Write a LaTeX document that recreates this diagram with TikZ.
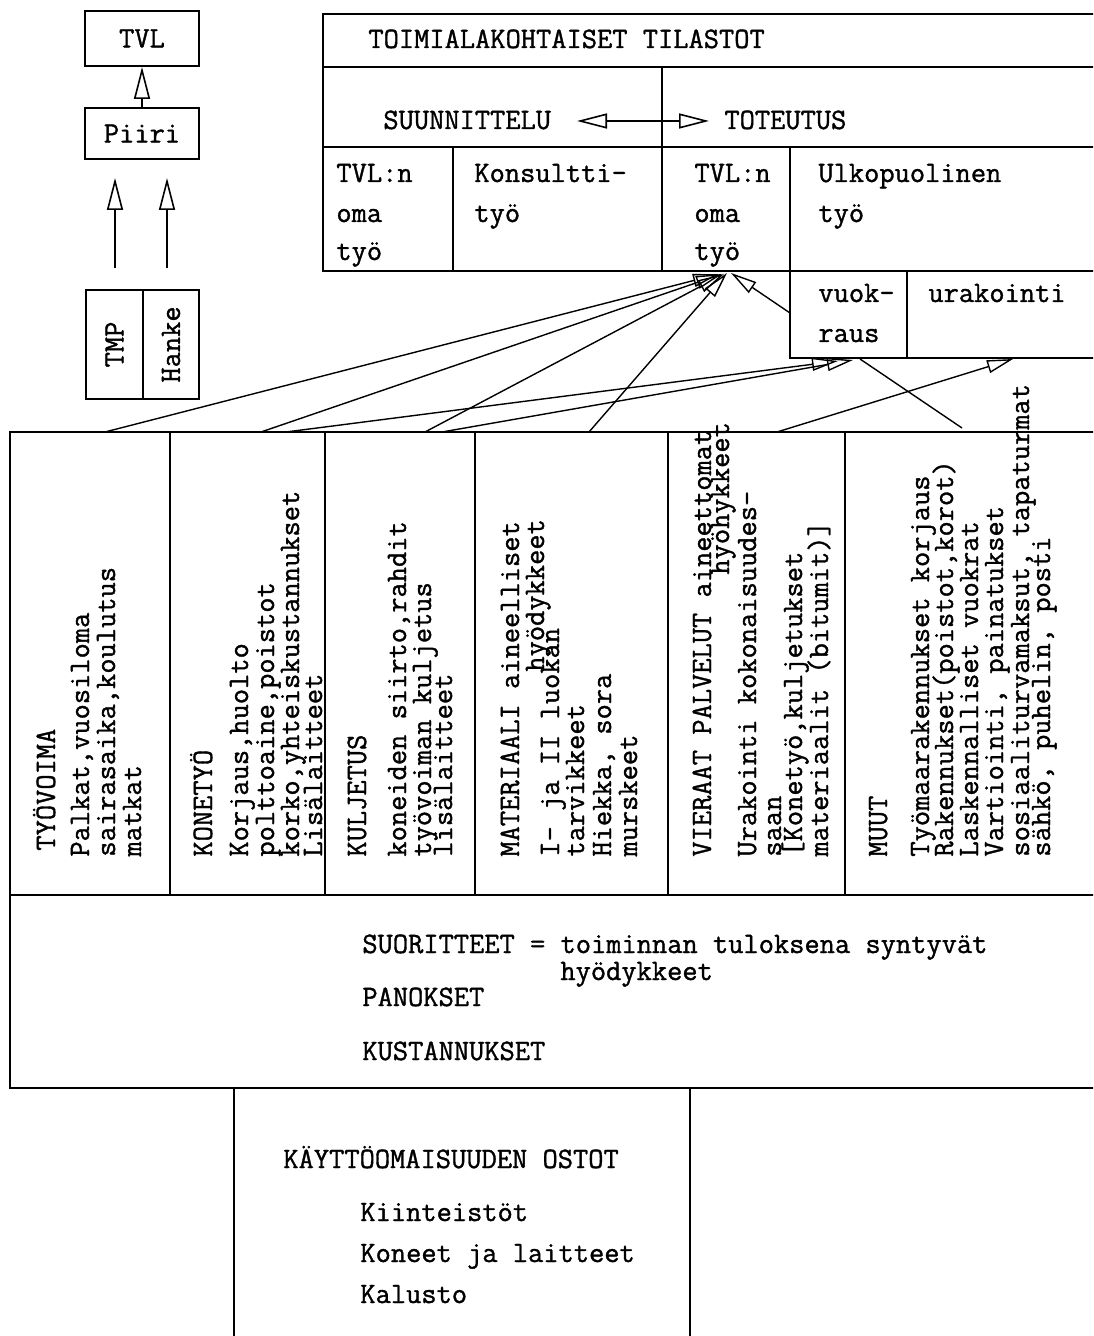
\documentclass[tikz,border=0pt]{standalone}
\usepackage{fontspec}
\newfontfamily\twfont{Latin Modern Mono}[FakeBold=1.2]
\usetikzlibrary{arrows.meta}
\tikzset{
 fnt/.style={font=\twfont\fontsize{14.8}{16}\selectfont},
 tx/.style={fnt, inner sep=0pt, text height=10pt, text depth=2pt, anchor=west},
 vt/.style={tx, rotate=90},
 rule/.style={line width=1pt},
 conn/.style={line width=0.7pt, -{Triangle[open,length=13pt,width=6.5pt,line width=0.7pt]}},
 bigconn/.style={line width=0.8pt, -{Triangle[open,length=16pt,width=8pt,line width=0.8pt]}},
 dblconn/.style={line width=0.8pt, {Triangle[open,length=15pt,width=7.5pt,line width=0.8pt]}-{Triangle[open,length=15pt,width=7.5pt,line width=0.8pt]}},
 plain/.style={line width=0.7pt},
}
\begin{document}
\begin{tikzpicture}[x=0.5pt,y=-0.5pt]
\useasboundingbox (0,0) rectangle (1093,1336);
\clip (0,0) rectangle (1093,1336);
\fill[white] (0,0) rectangle (1093,1336);

% ---------- top left hierarchy ----------
\node[draw, rule, fnt, minimum width=57pt, minimum height=27.5pt, inner sep=0pt] (tvl) at (142,38.5) {TVL};
\node[draw, rule, fnt, minimum width=57pt, minimum height=25.5pt, inner sep=0pt] (piiri) at (142,133.5) {Piiri};
\draw[bigconn] (piiri) -- (tvl);
\node[draw, rule, fnt, rotate=90, minimum width=54.5pt, minimum height=28.5pt, inner sep=0pt] (tmp) at (114.5,344.5) {TMP};
\node[draw, rule, fnt, rotate=90, minimum width=54.5pt, minimum height=28pt, inner sep=0pt] (hanke) at (171,344.5) {Hanke};
\coordinate (fa1s) at (115,268); \coordinate (fa1e) at (115,178);
\coordinate (fa2s) at (167,268); \coordinate (fa2e) at (167,178);
\draw[bigconn] (fa1s) -- (fa1e);
\draw[bigconn] (fa2s) -- (fa2e);

% ---------- top table ----------
\draw[rule] (1100,14) -- (323,14) -- (323,271) -- (1100,271);
\draw[rule] (323,67) -- (1100,67);
\draw[rule] (323,147) -- (1100,147);
\draw[rule] (662,67) -- (662,271);
\draw[rule] (453,147) -- (453,271);
\draw[rule] (790,147) -- (790,358) -- (1100,358);
\draw[rule] (907,271) -- (907,358);

\node[tx] (toim) at (368,40) {TOIMIALAKOHTAISET TILASTOT};
\node[tx] (suun) at (383,121) {SUUNNITTELU};
\node[tx] (tot) at (724,121) {TOTEUTUS};
\coordinate (dal) at (577,121); \coordinate (dar) at (709,121);
\draw[dblconn] (dal) -- (dar);

\node[tx] (c1a) at (336,174) {TVL:n};
\node[tx] (c1b) at (336,214) {oma};
\node[tx] (c1c) at (336,252) {työ};
\node[tx] (c2a) at (474,174) {Konsultti-};
\node[tx] (c2b) at (474,214) {työ};
\node[tx] (c3a) at (694,174) {TVL:n};
\node[tx] (c3b) at (694,214) {oma};
\node[tx] (c3c) at (694,252) {työ};
\node[tx] (c4a) at (818,174) {Ulkopuolinen};
\node[tx] (c4b) at (818,214) {työ};
\node[tx] (v1) at (818,294) {vuok-};
\node[tx] (v2) at (818,334) {raus};
\node[tx] (u1) at (928,294) {urakointi};

% ---------- bottom table ----------
\draw[rule] (1100,432) -- (10,432) -- (10,1088) -- (1100,1088);
\draw[rule] (10,895) -- (1100,895);
\foreach \cx in {170,325,475,668,845} \draw[rule] (\cx,432) -- (\cx,895);
\draw[rule] (234,1345) -- (234,1088);
\draw[rule] (690,1088) -- (690,1345);

% column 1
\node[vt] (k1h) at (47,851) {TYÖVOIMA};
\node[vt] (k1a) at (81,857) {Palkat,vuosiloma};
\node[vt] (k1b) at (107,857) {sairasaika,koulutus};
\node[vt] (k1c) at (133,857) {matkat};
% column 2
\node[vt] (k2h) at (204,857) {KONETYÖ};
\node[vt] (k2a) at (240,857) {Korjaus,huolto};
\node[vt] (k2b) at (266,857) {polttoaine,poistot};
\node[vt] (k2c) at (291,857) {korko,yhteiskustannukset};
\node[vt] (k2d) at (314,857) {Lisälaitteet};
% column 3
\node[vt] (k3h) at (358,857) {KULJETUS};
\node[vt] (k3a) at (398,857) {koneiden siirto,rahdit};
\node[vt] (k3b) at (423,857) {työvoiman kuljetus};
\node[vt] (k3c) at (444,857) {lisälaitteet};
% column 4
\node[vt] (k4h) at (511,857) {MATERIAALI aineelliset};
\node[vt] (k4x) at (536,672) {hyödykkeet};
\node[vt] (k4a) at (551,857) {I- ja II luokan};
\node[vt] (k4b) at (576,857) {tarvikkeet};
\node[vt] (k4c) at (603,857) {Hiekka, sora};
\node[vt] (k4d) at (629,857) {murskeet};
% column 5
\node[vt] (k5h) at (703,857) {VIERAAT PALVELUT aineettomat};
\node[vt] (k5x) at (721,575) {hyöhykkeet};
\node[vt] (k5a) at (748,857) {Urakointi kokonaisuudes-};
\node[vt] (k5b) at (773,857) {saan};
\node[vt] (k5c) at (794,857) {[Konetyö,kuljetukset};
\node[vt] (k5d) at (820,857) {materiaalit (bitumit)]};
% column 6
\node[vt] (k6h) at (879,857) {MUUT};
\node[vt] (k6a) at (921,857) {Työmaarakennukset korjaus};
\node[vt] (k6b) at (945,857) {Rakennukset(poistot,korot)};
\node[vt] (k6c) at (970,857) {Laskennalliset vuokrat};
\node[vt] (k6d) at (995,857) {Vartiointi, painatukset};
\node[vt] (k6e) at (1021,857) {sosiaaliturvamaksut, tapaturmat};
\node[vt] (k6f) at (1042,857) {sähkö, puhelin, posti};

% ---------- lower boxes text ----------
\node[tx] (suor) at (362,945) {SUORITTEET = toiminnan tuloksena syntyvät};
\node[tx] (hyo) at (560,972) {hyödykkeet};
\node[tx] (pan) at (362,998) {PANOKSET};
\node[tx] (kus) at (362,1052) {KUSTANNUKSET};
\node[tx] (kay) at (283,1160) {KÄYTTÖOMAISUUDEN OSTOT};
\node[tx] (kii) at (360,1213) {Kiinteistöt};
\node[tx] (kon) at (360,1254) {Koneet ja laitteet};
\node[tx] (kal) at (360,1295) {Kalusto};

% ---------- connectors ----------
\coordinate (s1) at (105,432);
\coordinate (s2) at (261,432);
\coordinate (s3) at (286,432);
\coordinate (s4) at (425,432);
\coordinate (s5) at (442,432);
\coordinate (s6) at (589,432);
\coordinate (s7) at (777,432);
\coordinate (s8) at (962,428);
\coordinate (s9) at (790,313);
\coordinate (t1) at (719,274);
\coordinate (t2) at (722,274);
\coordinate (t3) at (724,274);
\coordinate (t4) at (727,273);
\coordinate (t5) at (731,273);
\coordinate (t6) at (838,361);
\coordinate (t7) at (853,360);
\coordinate (t8) at (1013,359);
\coordinate (t9) at (860,359);
\draw[conn] (s1) -- (t1);
\draw[conn] (s2) -- (t2);
\draw[conn] (s4) -- (t3);
\draw[conn] (s6) -- (t4);
\draw[conn] (s9) -- (t5);
\draw[conn] (s3) -- (t6);
\draw[conn] (s5) -- (t7);
\draw[conn] (s7) -- (t8);
\draw[plain] (s8) -- (t9);
\end{tikzpicture}
\end{document}
